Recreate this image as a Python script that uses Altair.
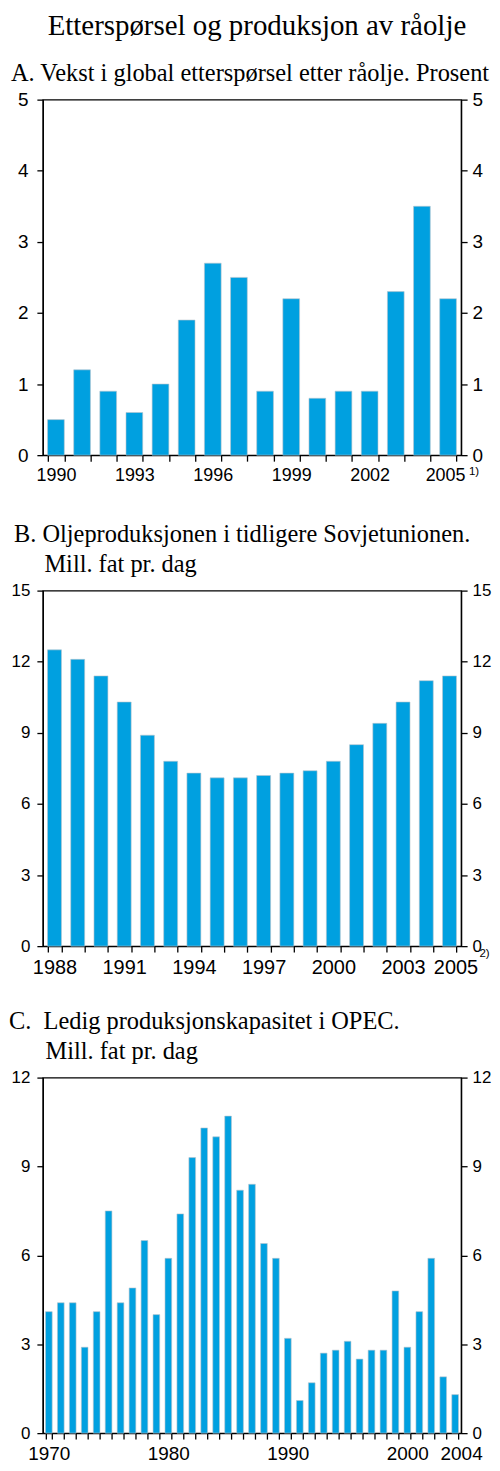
import json
import altair as alt
import pandas as pd

# A. Vekst i global etterspørsel etter råolje (prosent)
years_a = [str(y) for y in range(1990, 2006)]
values_a = [0.5, 1.2, 0.9, 0.6, 1.0, 1.9, 2.7, 2.5, 0.9, 2.2, 0.8, 0.9, 0.9, 2.3, 3.5, 2.2]
labels_a = ["1990", "1993", "1996", "1999", "2002", "2005"]
yticks_a = [0, 1, 2, 3, 4, 5]

# B. Oljeproduksjonen i tidligere Sovjetunionen (mill. fat pr. dag)
years_b = [str(y) for y in range(1988, 2006)]
values_b = [12.5, 12.1, 11.4, 10.3, 8.9, 7.8, 7.3, 7.1, 7.1, 7.2, 7.3, 7.4, 7.8, 8.5, 9.4, 10.3, 11.2, 11.4]
labels_b = ["1988", "1991", "1994", "1997", "2000", "2003", "2005"]
yticks_b = [0, 3, 6, 9, 12, 15]

# C. Ledig produksjonskapasitet i OPEC (mill. fat pr. dag)
years_c = [str(y) for y in range(1970, 2005)]
values_c = [4.1, 4.4, 4.4, 2.9, 4.1, 7.5, 4.4, 4.9, 6.5, 4.0,
            5.9, 7.4, 9.3, 10.3, 10.0, 10.7, 8.2, 8.4, 6.4, 5.9,
            3.2, 1.1, 1.7, 2.7, 2.8, 3.1, 2.5, 2.8, 2.8, 4.8,
            2.9, 4.1, 5.9, 1.9, 1.3]
labels_c = ["1970", "1980", "1990", "2000", "2004"]
yticks_c = [0, 3, 6, 9, 12]

BLUE = "#00a0e0"
SANS = "Liberation Sans"
SERIF = "Liberation Serif"
NB = "\u00a0"
ZWJ = "\u200d"
H = 357


def panel(years, values, labels, yticks, title_lines, title_dx, width, pad,
          xsize, ysize, left_pad=7, note=None, note_dx=0, note_dy=8, last_shift=0):
    df = pd.DataFrame({"year": years, "value": values})
    base = alt.Chart(df)

    x = alt.X(
        "year:O", title=None, sort=None,
        scale=alt.Scale(paddingInner=pad, paddingOuter=pad / 2),
        axis=alt.Axis(
            labelAngle=0, tickBand="extent", grid=False,
            labelExpr=f"indexof({json.dumps(labels)}, datum.value) >= 0 ? datum.value : ''",
            labelFont=SANS, labelFontSize=xsize, labelColor="black",
            labelPadding=5, tickSize=6, labelOffset={
                "condition": {"test": f"datum.value == '{years[-1]}'", "value": last_shift},
                "value": 0,
            },
        ),
    )
    yscale = alt.Scale(domain=[0, yticks[-1]], nice=False)

    def yaxis(orient, pad_lbl):
        return alt.Axis(orient=orient, values=yticks, grid=False, title=None,
                        labelFont=SANS, labelFontSize=ysize, labelColor="black",
                        tickSize=6, labelPadding=pad_lbl)

    bars = base.mark_bar(color=BLUE, stroke="#b8c4cc", strokeWidth=0.6).encode(
        x=x, y=alt.Y("value:Q", scale=yscale, axis=yaxis("left", left_pad))
    )
    right = base.mark_bar(opacity=0).encode(
        x=x, y=alt.Y("value:Q", scale=yscale, axis=yaxis("right", 5))
    )
    layers = [bars, right]
    if note:
        layers.append(
            base.transform_filter(f"datum.year == '{years[-1]}'")
            .mark_text(align="left", baseline="top", font=SANS, fontSize=11.5, dx=note_dx)
            .encode(x=x, y=alt.value(H + note_dy), text=alt.value(note))
        )
    return alt.layer(*layers).resolve_scale(y="independent").properties(
        width=width, height=H,
        title=alt.Title(title_lines, anchor="start", frame="group", dx=title_dx,
                        font=SERIF, fontSize=24.5, fontWeight="normal", lineHeight=30,
                        color="black", offset=4),
    )


chart_a = panel(years_a, values_a, labels_a, yticks_a,
                "A. Vekst i global etterspørsel etter råolje. Prosent",
                -32, 420, 0.36, 18, 19, left_pad=9,
                note="1)", note_dx=21, note_dy=11, last_shift=-3)
chart_b = panel(years_b, values_b, labels_b, yticks_b,
                ["B. Oljeproduksjonen i tidligere Sovjetunionen.",
                 ZWJ + NB * 5 + "Mill. fat pr. dag"],
                -29, 420, 0.4, 20, 17,
                note="2)", note_dx=30, note_dy=2, last_shift=6)
chart_c = panel(years_c, values_c, labels_c, yticks_c,
                ["C." + NB * 2 + "Ledig produksjonskapasitet i OPEC.",
                 ZWJ + NB * 6 + "Mill. fat pr. dag"],
                -34, 420, 0.44, 19, 17, last_shift=6)

chart = alt.vconcat(alt.vconcat(chart_a, chart_b, spacing=36), chart_c, spacing=30).properties(
    padding=0,
    title=alt.Title("Etterspørsel og produksjon av råolje", font=SERIF, fontSize=29,
                    fontWeight="normal", color="black", anchor="middle", dx=7, offset=20),
).configure_view(stroke="black", strokeWidth=1.3).configure_axis(
    domainColor="black", tickColor="black", domainWidth=1.3, tickWidth=1.3
)

chart.save("out.html", embed_options={"renderer": "svg", "actions": False})
